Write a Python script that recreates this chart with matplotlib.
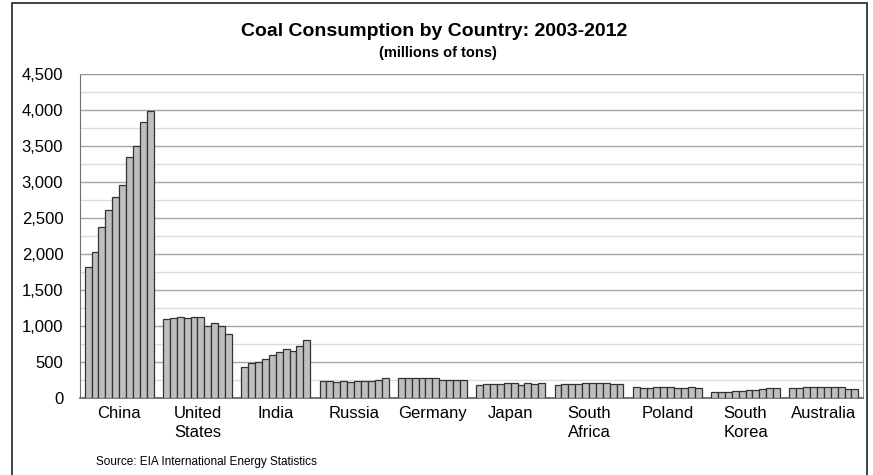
import numpy as np
import matplotlib.pyplot as plt
from matplotlib.patches import Rectangle
from matplotlib.ticker import MultipleLocator

plt.rcParams['font.family'] = ['Liberation Sans', 'DejaVu Sans']

# data - millions of tons, 2003..2012
countries = ["China", "United\nStates", "India", "Russia", "Germany", "Japan",
             "South\nAfrica", "Poland", "South\nKorea", "Australia"]
years = list(range(2003, 2013))

china = [1824, 2023, 2375, 2606, 2790, 2960, 3353, 3506, 3830, 3988]
united_states = [1095, 1107, 1126, 1112, 1128, 1121, 997, 1048, 1003, 889]
india = [428, 483, 502, 538, 594, 635, 676, 658, 722, 801]
russia = [241, 237, 228, 237, 228, 241, 241, 241, 255, 278]
germany = [282, 282, 273, 273, 282, 273, 250, 255, 255, 255]
japan = [180, 198, 200, 199, 206, 204, 182, 205, 194, 203]
south_africa = [185, 200, 190, 196, 203, 214, 212, 205, 200, 200]
poland = [159, 145, 145, 159, 150, 148, 138, 146, 147, 139]
south_korea = [85, 88, 90, 93, 104, 110, 116, 125, 143, 135]
australia = [142, 143, 157, 158, 159, 160, 158, 158, 130, 120]

series = [china, united_states, india, russia, germany, japan,
          south_africa, poland, south_korea, australia]

fig = plt.figure(figsize=(8.73, 4.75), dpi=100)
ax = fig.add_axes([0.0916, 0.162, 0.897, 0.682])

bw = 0.088
for i, vals in enumerate(series):
    offs = (np.arange(len(years)) - (len(years) - 1) / 2) * bw
    ax.bar(i + offs, vals, width=bw, color="#bfbfbf", edgecolor="#333333",
           linewidth=0.9, zorder=3)

ax.set_xlim(-0.5, len(countries) - 0.5)
ax.set_ylim(0, 4500)
ax.yaxis.set_major_locator(MultipleLocator(500))
ax.yaxis.set_minor_locator(MultipleLocator(250))
ax.yaxis.set_major_formatter(plt.FuncFormatter(lambda v, p: f"{int(v):,}"))
ax.grid(which="major", axis="y", color="#a6a6a6", linewidth=1.0, zorder=0)
ax.grid(which="minor", axis="y", color="#dcdcdc", linewidth=1.0, zorder=0)

ax.set_xticks(range(len(countries)))
ax.set_xticklabels(countries, fontsize=12, linespacing=1.3)
ax.tick_params(axis="x", length=0, pad=6)
ax.tick_params(axis="y", which="both", length=0, pad=12, labelsize=12)

for side in ["top", "right"]:
    ax.spines[side].set_color("#9a9a9a")
ax.spines["left"].set_color("#707070")
ax.spines["bottom"].set_color("#606060")
ax.spines["bottom"].set_linewidth(1.2)

fig.text(0.497, 0.934, "Coal Consumption by Country: 2003-2012",
         ha="center", va="center", fontsize=14, fontweight="bold")
fig.text(0.502, 0.888, "(millions of tons)", ha="center", va="center",
         fontsize=10.5, fontweight="bold")
fig.text(0.11, 0.027, "Source: EIA International Energy Statistics",
         ha="left", va="center", fontsize=8.5)

# outer chart frame
fig.patches.append(Rectangle((0.014, -0.01), 0.979, 1.003, transform=fig.transFigure,
                             fill=False, edgecolor="#222222", linewidth=1.2))

fig.savefig("out.png", dpi=100)
